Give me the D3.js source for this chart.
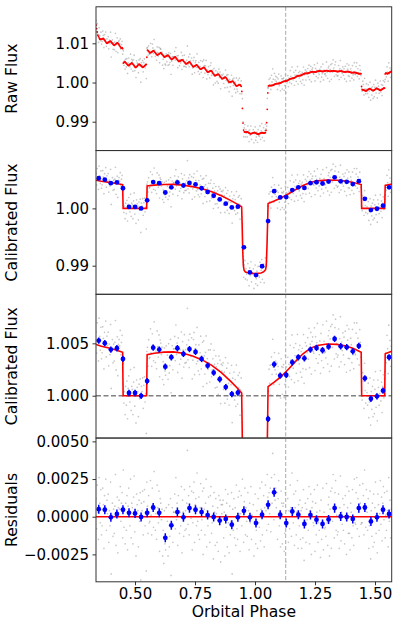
<!DOCTYPE html>
<html><head><meta charset="utf-8">
<script src="https://cdn.jsdelivr.net/npm/d3@7"></script>
<style>body{margin:0;background:#fff} text{font-family:"DejaVu Sans",sans-serif;fill:#000}</style>
</head><body><svg id="c" width="398" height="625"></svg>
<script>
// ---------- DATA ----------
const xTicks = [0.50, 0.75, 1.00, 1.25, 1.50];
const rawTicks = [0.99, 1.00, 1.01];
const calTicks = [0.99, 1.00];
const zoomTicks = [1.000, 1.005];
const resTicks = [-0.0025, 0.0000, 0.0025, 0.0050];
const markerPhase = 1.128;

// binned points
const binPhase = [0.3490,0.3742,0.3994,0.4246,0.4498,0.4750,0.5002,0.5254,0.5506,0.5758,
  0.6010,0.6262,0.6514,0.6766,0.7018,0.7270,0.7522,0.7774,0.8026,0.8278,
  0.8530,0.8782,0.9034,0.9286,0.9538,0.9790,1.0042,1.0294,1.0546,1.0798,
  1.1050,1.1302,1.1554,1.1806,1.2058,1.2310,1.2562,1.2814,1.3066,1.3318,
  1.3570,1.3822,1.4074,1.4326,1.4578,1.4830,1.5082,1.5334,1.5586];
const binFlux = [1.00526,1.00501,1.00440,1.00453,1.00351,1.00026,1.00026,0.99999,1.00140,1.00459,
  1.00440,1.00277,1.00367,1.00453,1.00399,1.00445,1.00418,1.00351,1.00287,1.00220,
  1.00157,1.00083,1.00016,1.00029,0.99320,0.98883,0.98836,0.98990,0.99778,1.00300,
  1.00191,1.00198,1.00319,1.00367,1.00357,1.00440,1.00456,1.00434,1.00468,1.00542,
  1.00472,1.00463,1.00424,1.00475,1.00166,0.99971,0.99994,1.00048,1.00367];
const binResid = [0.00050,0.00046,-0.00004,0.00018,0.00046,0.00026,0.00022,-0.00002,0.00026,0.00061,
  0.00026,-0.00140,-0.00057,0.00031,-0.00004,0.00057,0.00046,0.00031,0.00011,-0.00002,
  -0.00026,-0.00015,-0.00053,-0.00004,0.00039,-0.00004,-0.00042,0.00013,0.00079,0.00162,
  0.00013,-0.00042,0.00035,0.00013,-0.00048,0.00011,-0.00020,-0.00048,-0.00018,0.00057,
  0.00002,-0.00002,-0.00015,0.00057,0.00061,-0.00031,-0.00004,0.00046,0.00018];
const binErr = [0.0003,0.0003,0.0003,0.0003,0.0003,0.0003,0.0003,0.0003,0.0003,0.0003,
  0.0003,0.0003,0.0003,0.0003,0.0003,0.0003,0.0003,0.0003,0.0003,0.0003,
  0.0003,0.0003,0.0003,0.0003,0.0003,0.0003,0.0003,0.0003,0.0003,0.0003,
  0.0003,0.0003,0.0003,0.0003,0.0003,0.0003,0.0003,0.0003,0.0003,0.0003,
  0.0003,0.0003,0.0003,0.0003,0.0003,0.0003,0.0003,0.0003,0.0003];

// best-fit astrophysical model (knots)
const modelPhase = [0.3375,0.36,0.40,0.43,0.4485,0.4505,0.5485,0.5505,0.58,0.62,0.66,0.70,0.74,0.78,0.82,0.86,0.90,0.93,
  0.9444,0.9465,0.9490,0.9515,0.9545,0.960,0.975,1.000,1.025,1.036,1.044,1.047,1.050,1.0525,1.0545,
  1.08,1.11,1.14,1.17,1.20,1.23,1.26,1.30,1.34,1.38,1.41,1.4425,1.4445,1.5405,1.5425,1.5700];
const modelFlux = [1.00490,1.00472,1.00450,1.00430,1.00415,1.00000,1.00000,1.00392,1.00405,1.00416,1.00418,1.00406,1.00380,1.00342,1.00290,1.00220,1.00135,1.00065,
  1.00025,0.99700,0.99250,0.99000,0.98920,0.98890,0.98872,0.98862,0.98872,0.98892,0.98930,0.99000,0.99350,0.99750,1.00086,
  1.00130,1.00185,1.00255,1.00330,1.00400,1.00452,1.00480,1.00493,1.00490,1.00475,1.00450,1.00415,1.00000,1.00000,1.00400,1.00425];

// instrumental systematics: slow trend + short-period wobble (1e-4)
const trendPhase = [0.3375,0.345,0.36,0.40,0.45,0.50,0.56,0.60,0.70,0.77,0.85,0.94,1.05,1.20,1.35,1.45,1.57];
const trendValue = [1.0093,1.0072,1.0062,1.0056,1.0049,1.0044,1.0041,1.0031,1.0013,1.0003,0.9993,0.9985,0.9982,0.9981,0.9980,0.9981,0.9984];
const wobbleStart = 0.3375, wobbleStep = 0.015;
const wobble = [5,-4,5,-5,4,-4,6,-5,5,-4,5,-6,4,-4,5,-5,4,-4,5,-4,4,-5,5,-4,4,-4,5,-5,4,-4,5,-4,4,-5,4,-4,5,-4,4,-4,5,
  -3,2,-2,3,-2,2,-3,
  1,-1,1,-1,1,-1,1,-1,1,-1,1,-1,1,-1,1,-1,1,-1,1,-1,1,-1,1,-1,1,-1,1,
  -3,3,-3,3,-3,3,-2,2];

// unbinned residuals (1e-5), one per exposure
const grayStart = 0.3378, grayStep = 0.00252;
const grayResid = [
120,-80,210,30,-150,260,90,-40,180,-120,
-60,190,80,-210,140,30,250,-90,110,20,
150,-170,40,-60,230,-380,10,90,-130,50,
-110,70,280,-190,20,130,-240,60,110,50,
200,-30,90,160,-140,310,-70,40,-180,90,
-90,140,-220,70,190,30,-60,250,-140,90,
60,-180,130,270,-100,20,-260,150,80,40,
-200,110,-30,160,-420,90,40,170,-120,100,
180,-60,20,-360,230,70,-110,140,-40,-30,
240,10,-120,190,80,-70,300,50,-90,20,
-150,210,60,-40,170,-230,120,90,-20,50,
-260,-90,-310,40,-180,-220,60,-150,-30,-260,
80,-200,-130,120,-390,-40,60,-170,30,30,
150,-80,260,-20,90,-190,140,40,-110,30,
-60,200,-240,110,30,-130,180,-90,40,-80,
90,440,-50,140,-120,200,60,-10,170,-220,
-40,160,230,-170,80,120,-60,290,-30,-120,
130,-150,60,220,-90,-20,170,-250,190,50,
-120,90,250,-200,40,-60,130,10,-170,140,
200,-110,-40,70,-280,160,30,-190,120,20,
-170,60,-230,140,-50,110,-300,80,20,80,
110,-140,30,-260,180,-70,90,-200,150,-40,
-240,70,-120,-30,160,-380,50,-90,120,-140,
60,-190,210,-80,-150,130,20,170,-230,20,
140,-60,250,30,-170,100,190,-120,60,-30,
-130,160,40,-220,90,-40,200,-150,10,0,
80,-260,-30,150,-180,-90,40,-210,120,-40,
-70,190,-160,50,230,-120,10,140,-200,60,
210,40,-90,280,130,-50,160,20,190,-100,
260,90,420,150,-20,280,110,190,60,160,
-150,120,240,-60,30,-200,170,90,-180,70,
90,-230,-110,160,-300,40,-60,120,-170,40,
-80,210,60,-130,290,20,-40,150,-190,60,
170,-120,30,240,-210,80,-60,110,-150,40,
-210,60,-140,180,-290,-30,90,-170,50,-20,
120,-90,200,-180,40,150,-250,60,100,-40,
-60,180,-230,90,-120,30,210,-170,-40,-90,
40,-270,110,-150,-60,190,-220,30,-80,-70,
-130,220,-40,-190,80,130,-260,50,170,-210,
190,-30,280,70,-140,160,240,-90,10,-120,
-100,150,-210,60,270,-160,30,-50,120,-90,
80,-180,140,-20,-250,200,60,-110,170,-110,
-220,90,30,-140,180,-60,-190,250,-40,-50,
160,260,-80,120,30,-130,210,90,-50,-40,
-40,220,140,-120,310,50,-70,180,30,-90,
120,-210,-60,170,-280,40,-130,90,-200,150,
-170,60,230,-110,20,-240,150,80,-90,20,
240,-50,130,-160,90,200,-20,160,-140,10,
-90,170,40,-200,260,-30,110,-140,50,10];

// ---------- DRAW ----------
const svg = d3.select("#c");
const L = 96, R = 391.7, T = 6.8, PH = 143.75;
const x = d3.scaleLinear().domain([0.3375, 1.5696]).range([L, R]);

const modelAt = d3.scaleLinear().domain(modelPhase).range(modelFlux).clamp(true);
const trendAt = d3.scaleLinear().domain(trendPhase).range(trendValue).clamp(true);
const wobblePhase = wobble.map((_, i) => wobbleStart + i * wobbleStep);
const wobbleAt = d3.scaleLinear().domain(wobblePhase).range(wobble).clamp(true);
const sysAt = p => trendAt(p) + wobbleAt(p) * 1e-4;

const gray = grayResid.map((r, i) => {
  const p = grayStart + i * grayStep;
  const m = modelAt(p);
  return {p, res: r * 1e-5, cal: m + r * 1e-5, raw: (m + r * 1e-5) * sysAt(p), rawModel: m * sysAt(p)};
});
const bins = binPhase.map((p, i) => ({p, f: binFlux[i], r: binResid[i], e: binErr[i]}));
const model = modelPhase.map((p, i) => ({p, f: modelFlux[i]}));

const panels = [
  {dom: [0.98265, 1.01931], ticks: rawTicks, fmt: ".2f", label: "Raw Flux"},
  {dom: [0.98501, 1.01009], ticks: calTicks, fmt: ".2f", label: "Calibrated Flux"},
  {dom: [0.99596, 1.00968], ticks: zoomTicks, fmt: ".3f", label: "Calibrated Flux"},
  {dom: [-0.00432, 0.00522], ticks: resTicks, fmt: ".4f", label: "Residuals"}
];

panels.forEach((pn, k) => {
  const top = T + k * PH, bot = top + PH;
  const y = d3.scaleLinear().domain(pn.dom).range([bot, top]);
  const g = svg.append("g");
  const cid = "clip" + k;
  svg.append("clipPath").attr("id", cid).append("rect")
    .attr("x", L).attr("y", top).attr("width", R - L).attr("height", PH);
  const pg = g.append("g").attr("clip-path", `url(#${cid})`);

  const val = k === 0 ? d => d.raw : (k === 3 ? d => d.res : d => d.cal);
  pg.selectAll("circle.gr").data(gray).join("circle").attr("class", "gr")
    .attr("cx", d => x(d.p)).attr("cy", d => y(val(d))).attr("r", 0.85)
    .attr("fill", "#000").attr("fill-opacity", 0.22);

  if (k === 2) {
    pg.append("line").attr("x1", L).attr("x2", R).attr("y1", y(1)).attr("y2", y(1))
      .attr("stroke", "#808080").attr("stroke-width", 1.4).attr("stroke-dasharray", "5,2.5");
  }
  // vertical marker
  pg.append("line").attr("x1", x(markerPhase)).attr("x2", x(markerPhase)).attr("y1", top).attr("y2", bot)
    .attr("stroke", "#aaaaaa").attr("stroke-width", 1).attr("stroke-dasharray", "4,2");

  if (k === 0) {
    pg.selectAll("circle.rm").data(gray).join("circle").attr("class", "rm")
      .attr("cx", d => x(d.p)).attr("cy", d => y(d.rawModel)).attr("r", 0.9)
      .attr("fill", "#ff0000");
  } else if (k === 3) {
    pg.append("line").attr("x1", L).attr("x2", R).attr("y1", y(0)).attr("y2", y(0))
      .attr("stroke", "#ff0000").attr("stroke-width", 1.6);
  } else {
    pg.append("path").datum(model)
      .attr("d", d3.line().x(d => x(d.p)).y(d => y(d.f)))
      .attr("fill", "none").attr("stroke", "#ff0000").attr("stroke-width", 1.6);
  }

  if (k > 0) {
    const bv = k === 3 ? d => d.r : d => d.f;
    if (k >= 2) {
      pg.selectAll("line.eb").data(bins).join("line").attr("class", "eb")
        .attr("x1", d => x(d.p)).attr("x2", d => x(d.p))
        .attr("y1", d => y(bv(d) - d.e)).attr("y2", d => y(bv(d) + d.e))
        .attr("stroke", "#0000ff").attr("stroke-width", 1.5);
    }
    pg.selectAll("circle.b").data(bins).join("circle").attr("class", "b")
      .attr("cx", d => x(d.p)).attr("cy", d => y(bv(d))).attr("r", 2.4)
      .attr("fill", "#0000ff");
  }

  // y axis
  const ya = g.append("g").attr("transform", `translate(${L},0)`)
    .call(d3.axisLeft(y).tickValues(pn.ticks).tickFormat(d3.format(pn.fmt)).tickSize(3.5).tickPadding(3.5));
  ya.select(".domain").remove();
  ya.selectAll("line").attr("stroke", "#000").attr("stroke-width", 0.8);
  ya.selectAll("text").attr("font-size", 15).attr("font-family", "DejaVu Sans");

  // frame
  g.append("rect").attr("x", L).attr("y", top).attr("width", R - L).attr("height", PH)
    .attr("fill", "none").attr("stroke", "#333").attr("stroke-width", 1);

  g.append("text").attr("transform", `translate(17,${(top + bot) / 2}) rotate(-90)`)
    .attr("text-anchor", "middle").attr("font-size", 15.6).text(pn.label);

  if (k === 3) {
    const xa = g.append("g").attr("transform", `translate(0,${bot})`)
      .call(d3.axisBottom(x).tickValues(xTicks).tickFormat(d3.format(".2f")).tickSize(3.5).tickPadding(3.5));
    xa.select(".domain").remove();
    xa.selectAll("line").attr("stroke", "#000").attr("stroke-width", 0.8);
    xa.selectAll("text").attr("font-size", 15).attr("font-family", "DejaVu Sans");
    svg.append("text").attr("x", (L + R) / 2).attr("y", 617).attr("text-anchor", "middle")
      .attr("font-size", 15.6).text("Orbital Phase");
  }
});
</script></body></html>
